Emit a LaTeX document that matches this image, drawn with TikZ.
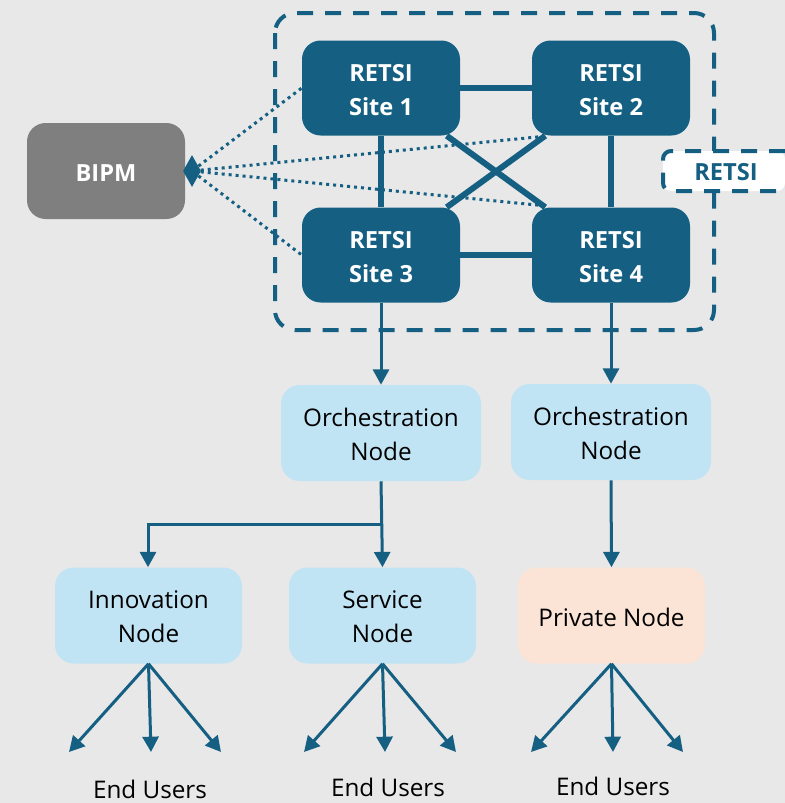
\documentclass[tikz,border=0pt]{standalone}
\usepackage{fontspec}
\setmainfont{Open Sans}
\usetikzlibrary{arrows.meta,shapes.geometric}
\definecolor{teal}{HTML}{156082}
\definecolor{bg}{HTML}{E8E8E8}
\definecolor{lblue}{HTML}{C1E4F5}
\definecolor{peach}{HTML}{FBE3D6}
\definecolor{gr}{HTML}{7F7F7F}
\pgfdeclarelayer{paper}
\pgfdeclarelayer{back}
\pgfdeclarelayer{top}
\pgfsetlayers{paper,back,main,top}
\tikzset{
  x=0.75pt,y=-0.75pt,
  dropto/.style={execute at begin node={\rule{0pt}{#1}}},
  site/.style={draw=none,fill=teal,rounded corners=14pt,minimum width=118.5pt,minimum height=71.25pt,inner sep=0pt,text=white,font=\fontsize{17.7}{25.5}\selectfont\bfseries,align=center},
  lnode/.style={draw=none,fill=lblue,rounded corners=14pt,minimum height=72pt,inner sep=0pt,text=black,font=\fontsize{18.2}{25.5}\selectfont,align=center},
  wide/.style={minimum width=150pt},
  narrow/.style={minimum width=140.25pt},
  link/.style={draw=teal,line width=4.5pt},
  arrow/.style={draw=teal,line width=2.25pt,-{Triangle[length=11.5pt,width=12pt]}},
  dots/.style={draw=teal,line width=2.25pt,dash pattern=on 2.25pt off 3pt},
  dashbox/.style={draw=teal,line width=3pt,dash pattern=on 12pt off 9pt},
  users/.style={text=black,font=\fontsize{18.2}{20}\selectfont,inner sep=0pt},
}
\begin{document}
\begin{tikzpicture}
\useasboundingbox (0,0) rectangle (785,803);
\begin{pgfonlayer}{paper}
\fill[bg] (0,0) rectangle (785,803);
\end{pgfonlayer}

\node[site,dropto=42pt] (s1) at (381,88) {RETSI\\Site 1};
\node[site,dropto=42pt] (s2) at (611,88) {RETSI\\Site 2};
\node[site,dropto=42pt] (s3) at (381,255) {RETSI\\Site 3};
\node[site,dropto=42pt] (s4) at (611,255) {RETSI\\Site 4};
\node[site,fill=gr,minimum height=72pt,dropto=15pt] (bipm) at (106,171) {BIPM};
\node[diamond,fill=teal,draw=none,minimum width=13.5pt,minimum height=24pt,inner sep=0pt] (d) at (192,171) {};

\node[lnode,wide,dropto=41pt] (o1) at (381,433) {Orchestration\\Node};
\node[lnode,wide,dropto=41pt] (o2) at (611,432) {Orchestration\\Node};
\node[lnode,narrow,dropto=41pt] (inn) at (148.5,615.5) {Innovation\\Node};
\node[lnode,narrow,dropto=41pt] (svc) at (382.5,615.5) {Service\\Node};
\node[lnode,narrow,fill=peach,dropto=17pt] (prv) at (611.5,615.5) {Private Node};

\node[users] (u1) at (150,789) {End Users};
\node[users] (u2) at (388,787) {End Users};
\node[users] (u3) at (613,786) {End Users};

\coordinate (d2) at (547,136);
\coordinate (d4) at (547,206);
\coordinate (c) at (381,524);
\coordinate (ci) at (148,524);
\coordinate (a1) at (69,752);
\coordinate (a2) at (151,752);
\coordinate (a3) at (221,752);
\coordinate (b1) at (304,752);
\coordinate (b2) at (385,752);
\coordinate (b3) at (456,752);
\coordinate (e1) at (531,752);
\coordinate (e2) at (613,752);
\coordinate (e3) at (683,752);

\begin{pgfonlayer}{back}
\draw[link] (s1) -- (s2);
\draw[link] (s3) -- (s4);
\draw[link] (s1) -- (s3);
\draw[link] (s2) -- (s4);
\draw[link] (s1) -- (s4);
\draw[link] (s3) -- (s2);
\draw[dots] (d) -- (s1.west);
\draw[dots] (d) -- (s3.west);
\draw[dots] (d) -- (d2);
\draw[dots] (d) -- (d4);
\draw[dashbox,rounded corners=15pt] (275,13) rectangle (714,330);
\end{pgfonlayer}

\draw[arrow] (s3.south) -- (o1.north);
\draw[arrow] (s4.south) -- (o2.north);
\draw[arrow] (o2.south) -- (prv.north);
\draw[arrow] (o1.south) -- (svc.north);
\draw[arrow] (c) -- (ci) -- (inn.north -| ci);
\draw[arrow] (inn.south) -- (a1);
\draw[arrow] (inn.south) -- (a2);
\draw[arrow] (inn.south) -- (a3);
\draw[arrow] (svc.south) -- (b1);
\draw[arrow] (svc.south) -- (b2);
\draw[arrow] (svc.south) -- (b3);
\draw[arrow] (prv.south) -- (e1);
\draw[arrow] (prv.south) -- (e2);
\draw[arrow] (prv.south) -- (e3);

\begin{pgfonlayer}{top}
\fill[white,rounded corners=6pt] (663,151) rectangle (785,191);
\draw[dashbox,rounded corners=6pt] (785,151) -- (663,151) -- (663,191) -- (785,191);
\node[text=teal,font=\fontsize{17.7}{20}\selectfont\bfseries,inner sep=0pt] (lab) at (726,172) {RETSI};
\end{pgfonlayer}
\end{tikzpicture}
\end{document}
